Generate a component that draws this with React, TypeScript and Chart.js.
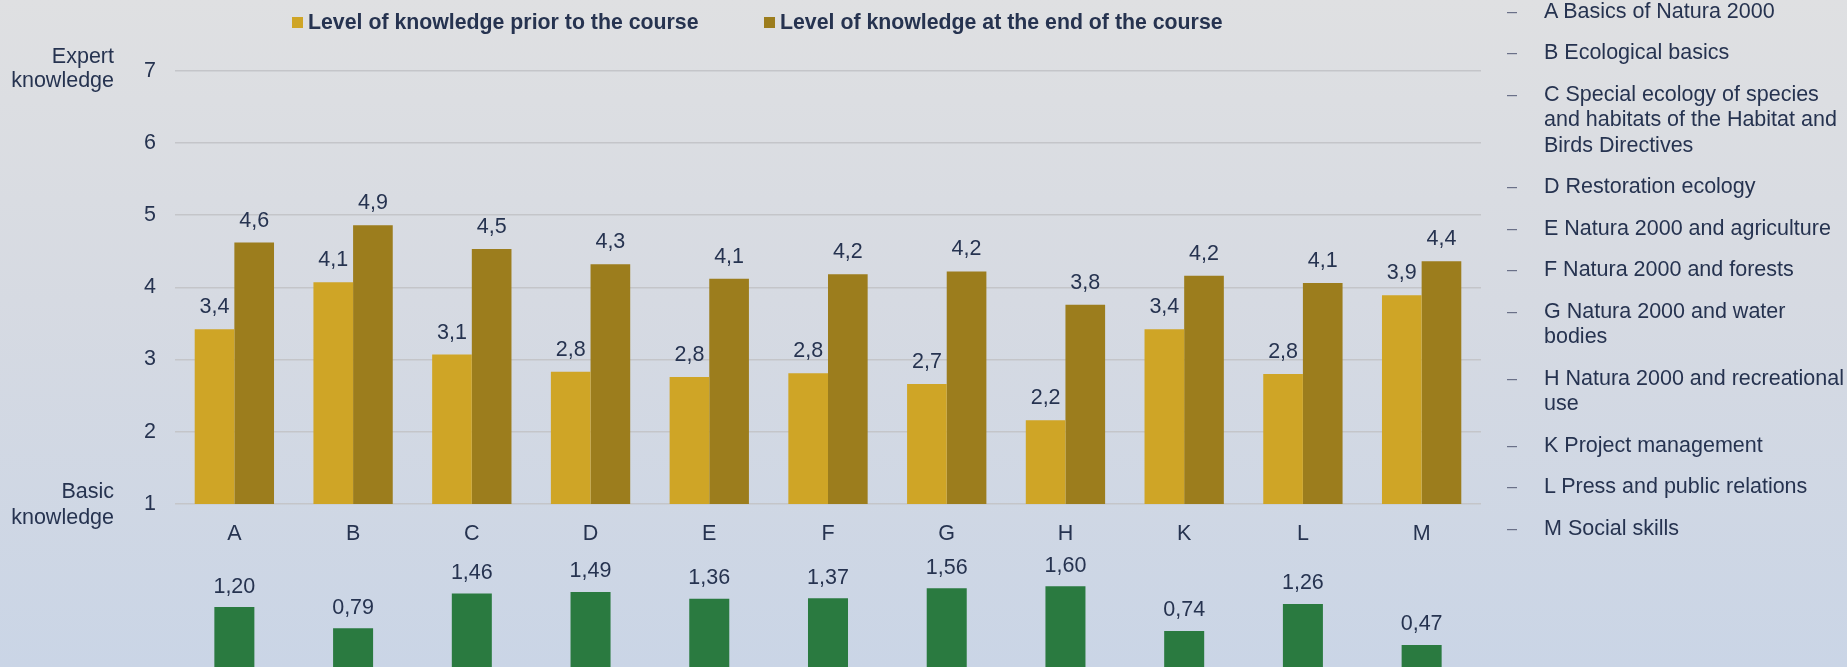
import React, { useEffect, useRef } from "react";
import { Chart, registerables } from "chart.js";

Chart.register(...registerables);

// ---------- data ----------
const categories = ["A", "B", "C", "D", "E", "F", "G", "H", "K", "L", "M"];
const priorValues = [3.42, 4.07, 3.07, 2.83, 2.76, 2.81, 2.66, 2.16, 3.42, 2.8, 3.89];
const endValues = [4.62, 4.86, 4.53, 4.32, 4.12, 4.18, 4.22, 3.76, 4.16, 4.06, 4.36];
const gainValues = [1.2, 0.79, 1.46, 1.49, 1.36, 1.37, 1.56, 1.6, 0.74, 1.26, 0.47];
const seriesLabels = [
  "Level of knowledge prior to the course",
  "Level of knowledge at the end of the course",
];
const yMin = 1;
const yMax = 7;
const topAxisLabel = ["Expert", "knowledge"];
const bottomAxisLabel = ["Basic", "knowledge"];
const topicLines = [
  ["A Basics of Natura 2000"],
  ["B Ecological basics"],
  ["C Special ecology of species", "and habitats of the Habitat and", "Birds Directives"],
  ["D Restoration ecology"],
  ["E Natura 2000 and agriculture"],
  ["F Natura 2000 and forests"],
  ["G Natura 2000 and water", "bodies"],
  ["H Natura 2000 and recreational", "use"],
  ["K Project management"],
  ["L Press and public relations"],
  ["M Social skills"],
];

// ---------- styles ----------
const FONT = "'Liberation Sans', Arial, sans-serif";
const TEXT = "#263350";
const PRIOR = "#cfa526";
const END = "#9c7d1d";
const GAIN = "#2a7a40";
const GRID = "#c4c5c9";
const FS = 21.5;

const fmt = (v: number, d: number) => v.toFixed(d).replace(".", ",");

const legendPlugin = {
  id: "topLegend",
  afterDraw(chart: any) {
    const ctx = chart.ctx;
    ctx.save();
    ctx.font = `bold 21.3px ${FONT}`;
    ctx.textBaseline = "alphabetic";
    ctx.textAlign = "left";
    let x = 292;
    chart.data.datasets.forEach((ds: any) => {
      ctx.fillStyle = ds.backgroundColor;
      ctx.fillRect(x, 17, 11, 11);
      ctx.fillStyle = TEXT;
      ctx.fillText(ds.label, x + 16, 29.2);
      x += 16 + ctx.measureText(ds.label).width + 65.5;
    });
    ctx.restore();
  },
};

const makeValueLabels = (decimals: number, offset: number) => ({
  id: "valueLabels",
  afterDatasetsDraw(chart: any) {
    const ctx = chart.ctx;
    ctx.save();
    ctx.font = `${FS}px ${FONT}`;
    ctx.fillStyle = TEXT;
    ctx.textAlign = "center";
    ctx.textBaseline = "alphabetic";
    chart.data.datasets.forEach((ds: any, i: number) => {
      const meta = chart.getDatasetMeta(i);
      meta.data.forEach((el: any, j: number) => {
        ctx.fillText(fmt(ds.data[j], decimals), el.x, el.y - offset);
      });
    });
    ctx.restore();
  },
});

const yTitlePlugin = {
  id: "yTitles",
  afterDraw(chart: any) {
    const ctx = chart.ctx;
    const y = chart.scales.y;
    ctx.save();
    ctx.font = `${FS}px ${FONT}`;
    ctx.fillStyle = TEXT;
    ctx.textAlign = "right";
    ctx.textBaseline = "alphabetic";
    const yt = y.getPixelForValue(yMax);
    ctx.fillText(topAxisLabel[0], 114, yt - 7.4);
    ctx.fillText(topAxisLabel[1], 114, yt + 16.6);
    const yb = y.getPixelForValue(yMin);
    ctx.fillText(bottomAxisLabel[0], 114, yb - 5.7);
    ctx.fillText(bottomAxisLabel[1], 114, yb + 20);
    ctx.restore();
  },
};

export default function App() {
  const topRef = useRef<HTMLCanvasElement>(null);
  const bottomRef = useRef<HTMLCanvasElement>(null);

  useEffect(() => {
    const topChart = new Chart(topRef.current as HTMLCanvasElement, {
      type: "bar",
      data: {
        labels: categories,
        datasets: [
          { label: seriesLabels[0], data: priorValues, backgroundColor: PRIOR },
          { label: seriesLabels[1], data: endValues, backgroundColor: END },
        ],
      },
      options: {
        responsive: false,
        animation: false,
        events: [],
        layout: { padding: { top: 70.7, bottom: 16, left: 0, right: 366 } },
        plugins: { legend: { display: false }, tooltip: { enabled: false } },
        datasets: { bar: { categoryPercentage: 0.668, barPercentage: 1 } },
        scales: {
          x: {
            grid: { display: false },
            border: { display: false },
            ticks: { color: TEXT, font: { family: FONT, size: FS }, padding: 9 },
            afterFit: (s: any) => {
              s.height = 40;
            },
          },
          y: {
            min: yMin,
            max: yMax,
            ticks: { stepSize: 1, color: TEXT, font: { family: FONT, size: FS }, padding: 19 },
            grid: { color: GRID, lineWidth: 1.5, drawTicks: false },
            border: { display: false },
            afterFit: (s: any) => {
              s.width = 175;
            },
          },
        },
      } as any,
      plugins: [legendPlugin, makeValueLabels(1, 16), yTitlePlugin],
    });

    const bottomChart = new Chart(bottomRef.current as HTMLCanvasElement, {
      type: "bar",
      data: {
        labels: categories,
        datasets: [{ label: "Difference", data: gainValues, backgroundColor: GAIN }],
      },
      options: {
        responsive: false,
        animation: false,
        events: [],
        layout: { padding: { top: 9.4, bottom: 10.6, left: 175, right: 366 } },
        plugins: { legend: { display: false }, tooltip: { enabled: false } },
        datasets: { bar: { categoryPercentage: 0.337, barPercentage: 1 } },
        scales: {
          x: { display: false },
          y: { display: false, min: 0, max: 2.5 },
        },
      } as any,
      plugins: [makeValueLabels(2, 14.5)],
    });

    return () => {
      topChart.destroy();
      bottomChart.destroy();
    };
  }, []);

  let cy = -1.25;
  const items = topicLines.map((lines, i) => {
    const top = cy;
    cy += lines.length * 25.5 + 16;
    return (
      <div key={i} style={{ position: "absolute", left: 0, top, width: 340 }}>
        <div
          style={{
            position: "absolute",
            left: -2,
            top: 0,
            fontSize: 18,
            lineHeight: "25.5px",
            color: "#6a7088",
          }}
        >
          –
        </div>
        <div style={{ position: "absolute", left: 35, top: 0, whiteSpace: "nowrap" }}>
          {lines.map((l, k) => (
            <div key={k}>{l}</div>
          ))}
        </div>
      </div>
    );
  });

  return (
    <div
      style={{
        position: "fixed",
        left: 0,
        top: 0,
        width: 1847,
        height: 667,
        overflow: "hidden",
        background: "linear-gradient(180deg, #dfe0e2 0%, #d6dae2 45%, #cad5e6 100%)",
        fontFamily: FONT,
      }}
    >
      <canvas
        ref={topRef}
        width={1847}
        height={560}
        style={{ position: "absolute", left: 0, top: 0, width: 1847, height: 560 }}
      />
      <canvas
        ref={bottomRef}
        width={1847}
        height={150}
        style={{ position: "absolute", left: 0, top: 530, width: 1847, height: 150 }}
      />
      <div
        style={{
          position: "absolute",
          left: 1509,
          top: 0,
          fontSize: FS,
          lineHeight: "25.5px",
          color: TEXT,
        }}
      >
        {items}
      </div>
    </div>
  );
}
